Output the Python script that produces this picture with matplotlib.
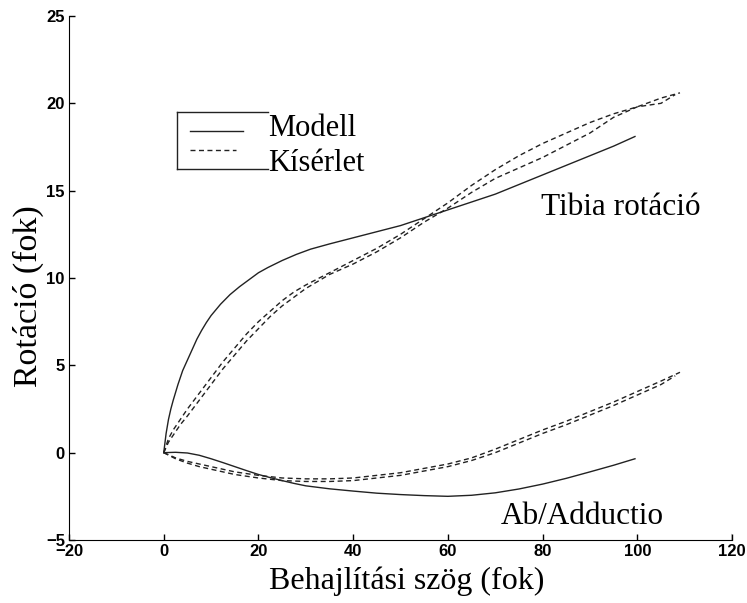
import matplotlib.pyplot as plt
from matplotlib.lines import Line2D

# Tibia rotation, model (solid)
tib_mod_x = [0, 0.5, 1, 1.5, 2, 3, 4, 5, 6, 7, 8, 9, 10, 12, 14, 16, 18, 20, 22, 25, 28, 31, 35,
             40, 45, 50, 55, 60, 65, 70, 75, 80, 85, 90, 95, 99.5]
tib_mod_y = [0, 1.1, 1.9, 2.5, 3.0, 3.9, 4.7, 5.3, 5.9, 6.5, 7.0, 7.45, 7.85, 8.5, 9.05, 9.5, 9.9, 10.3,
             10.6, 11.0, 11.35, 11.65, 11.95, 12.3, 12.65, 13.0, 13.45, 13.9, 14.35, 14.8, 15.35, 15.9,
             16.45, 17.0, 17.55, 18.1]

# Tibia rotation, experiment (two dashed runs)
tib_exp_x1 = [0, 1, 2, 3.5, 5, 7.5, 10, 12.5, 15, 17.5, 20, 22.5, 25, 27.5, 30, 35, 40, 45, 50, 55, 60,
              65, 70, 75, 80, 85, 90, 95, 100, 105, 109]
tib_exp_y1 = [0, 0.8, 1.3, 1.9, 2.5, 3.4, 4.3, 5.2, 6.0, 6.8, 7.5, 8.1, 8.7, 9.2, 9.6, 10.3, 11.0, 11.7,
              12.5, 13.4, 14.3, 15.3, 16.2, 17.0, 17.7, 18.3, 18.9, 19.4, 19.8, 20.3, 20.6]
tib_exp_x2 = [0, 1, 2, 3.5, 5, 7.5, 10, 12.5, 15, 17.5, 20, 22.5, 25, 27.5, 30, 35, 40, 45, 50, 55, 60,
              65, 70, 75, 80, 85, 90, 95, 100, 105, 108]
tib_exp_y2 = [0, 0.6, 1.0, 1.6, 2.1, 3.0, 3.9, 4.8, 5.6, 6.4, 7.1, 7.8, 8.4, 8.9, 9.4, 10.2, 10.8, 11.5,
              12.3, 13.2, 14.0, 14.9, 15.7, 16.3, 16.9, 17.6, 18.3, 19.2, 19.8, 20.0, 20.5]

# Ab/Adduction, model (solid)
ab_mod_x = [0, 2.5, 5, 7.5, 10, 12.5, 15, 17.5, 20, 22.5, 25, 27.5, 30, 35, 40, 45, 50, 55, 60, 65,
            70, 75, 80, 85, 90, 95, 99.5]
ab_mod_y = [0, 0.02, -0.02, -0.15, -0.35, -0.57, -0.8, -1.03, -1.25, -1.43, -1.6, -1.76, -1.9, -2.07,
            -2.2, -2.32, -2.4, -2.46, -2.5, -2.44, -2.3, -2.08, -1.8, -1.47, -1.1, -0.72, -0.35]

# Ab/Adduction, experiment (two dashed runs)
ab_exp_x1 = [0, 2.5, 5, 7.5, 10, 15, 20, 25, 30, 35, 40, 45, 50, 55, 60, 65, 70, 75, 80, 85, 90, 95,
             100, 105, 109]
ab_exp_y1 = [0, -0.3, -0.5, -0.65, -0.8, -1.1, -1.3, -1.45, -1.5, -1.5, -1.45, -1.3, -1.15, -0.9, -0.65,
             -0.3, 0.2, 0.75, 1.3, 1.8, 2.35, 2.9, 3.5, 4.1, 4.6]
ab_exp_x2 = [0, 2.5, 5, 7.5, 10, 15, 20, 25, 30, 35, 40, 45, 50, 55, 60, 65, 70, 75, 80, 85, 90, 95,
             100, 105, 108]
ab_exp_y2 = [0, -0.35, -0.6, -0.8, -0.95, -1.25, -1.45, -1.6, -1.65, -1.65, -1.6, -1.45, -1.3, -1.05,
             -0.8, -0.45, 0.0, 0.55, 1.1, 1.6, 2.15, 2.7, 3.3, 3.9, 4.4]

xticks = [-20, 0, 20, 40, 60, 80, 100, 120]
yticks = [-5, 0, 5, 10, 15, 20, 25]

serif = 'Liberation Serif'
dash = (0, (3.6, 2.5))
ink = '#222222'

fig = plt.figure(figsize=(7.47, 6.03), dpi=100)
ax = fig.add_axes([0.0924, 0.1045, 0.8876, 0.869])

ax.plot(tib_mod_x, tib_mod_y, color=ink, lw=1.0)
ax.plot(tib_exp_x1, tib_exp_y1, color=ink, lw=1.0, linestyle=dash)
ax.plot(tib_exp_x2, tib_exp_y2, color=ink, lw=1.0, linestyle=dash)
ax.plot(ab_mod_x, ab_mod_y, color=ink, lw=1.0)
ax.plot(ab_exp_x1, ab_exp_y1, color=ink, lw=1.0, linestyle=dash)
ax.plot(ab_exp_x2, ab_exp_y2, color=ink, lw=1.0, linestyle=dash)

ax.set_xlim(-20, 120)
ax.set_ylim(-5, 25)
ax.set_xticks(xticks)
ax.set_yticks(yticks)
ax.spines['top'].set_visible(False)
ax.spines['right'].set_visible(False)
ax.tick_params(direction='in', length=4, width=1, pad=3)
for lab in ax.get_xticklabels() + ax.get_yticklabels():
    lab.set_fontfamily('Liberation Sans')
    lab.set_fontweight('bold')
    lab.set_fontsize(12)
# small end tick at x=120 pointing up
ax.axvline(120, ymin=0, ymax=0.012, color='black', lw=1)

ax.set_xlabel('Behajlítási szög (fok)', family=serif, fontsize=23)
ax.set_ylabel('Rotáció (fok)', family=serif, fontsize=24.5)
ax.xaxis.set_label_coords(0.51, -0.05)
ax.yaxis.set_label_coords(-0.038, 0.466)

ax.text(96.6, 13.6, 'Tibia rotáció', family=serif, fontsize=22.5, ha='center', va='baseline')
ax.text(88.3, -4.08, 'Ab/Adductio', family=serif, fontsize=22.5, ha='center', va='baseline')

# hand-drawn legend: box open on the right, labels sitting at its edge
t = ax.transAxes
for xs, ys in [([0.163, 0.30], [0.817, 0.817]), ([0.163, 0.163], [0.817, 0.708]), ([0.163, 0.30], [0.708, 0.708])]:
    ax.add_line(Line2D(xs, ys, transform=t, color=ink, lw=1.0))
ax.add_line(Line2D([0.1825, 0.262], [0.78, 0.78], transform=t, color=ink, lw=1.0))
ax.add_line(Line2D([0.1825, 0.252], [0.744, 0.744], transform=t, color=ink, lw=1.0, linestyle=dash))
ax.text(0.30, 0.771, 'Modell', transform=t, family=serif, fontsize=22, va='baseline')
ax.text(0.30, 0.704, 'Kísérlet', transform=t, family=serif, fontsize=22, va='baseline')

fig.savefig('out.png', dpi=100)
